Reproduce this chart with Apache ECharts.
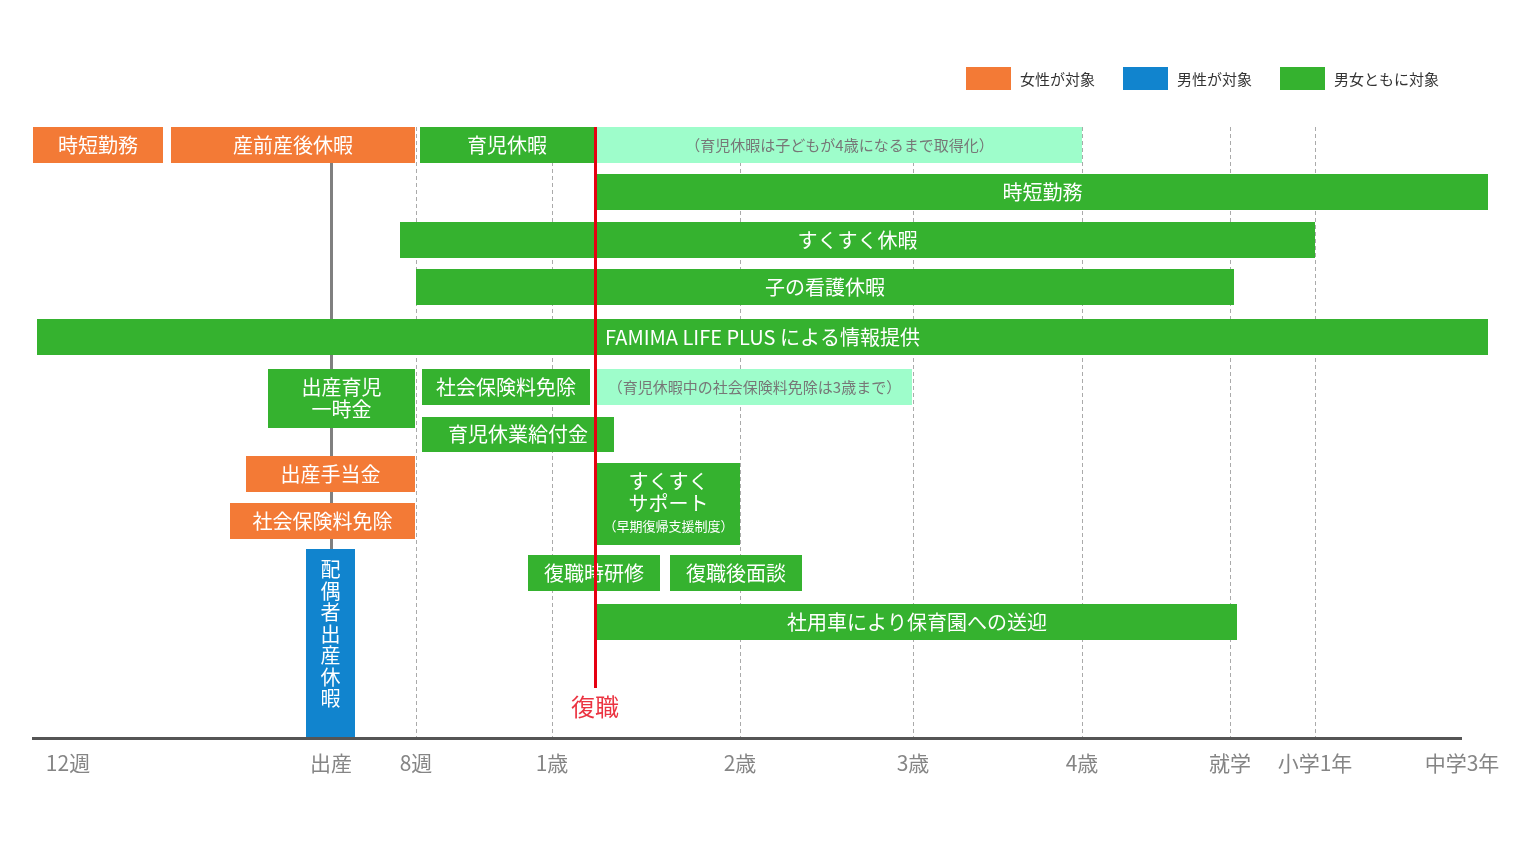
<!DOCTYPE html>
<html><head><meta charset="utf-8">
<script src="https://cdn.jsdelivr.net/npm/echarts@6/dist/echarts.min.js"></script>
<style>html,body{margin:0;background:#fff}#c{width:1540px;height:848px}</style>
</head><body><div id="c"></div>
<script>
// time axis: 0 = 12週, values in axis units
const tickNames = ['12週','出産','8週','1歳','2歳','3歳','4歳','就学','小学1年','中学3年'];
const tickPos   = [0, 289, 374, 510, 698, 871, 1040, 1188, 1273, 1420];
const dashedAt  = [374, 510, 698, 871, 1040, 1188, 1273];
const birthAt = 289, returnAt = 553;

// bars
const barNames = ['時短勤務','産前産後休暇','育児休暇','（育児休暇は子どもが4歳になるまで取得化）','時短勤務','すくすく休暇','子の看護休暇',
  'FAMIMA LIFE PLUS による情報提供','出産育児\n一時金','社会保険料免除','（育児休暇中の社会保険料免除は3歳まで）','育児休業給付金',
  '出産手当金','すくすく\nサポート\n{s|（早期復帰支援制度）}','社会保険料免除','復職時研修','復職後面談','社用車により保育園への送迎','配\n偶\n者\n出\n産\n休\n暇'];
const barStart = [-9,129,378,555,555,358,374,-5,226,380,555,380,204,555,188,486,628,555,264];
const barEnd   = [121,373,552,1040,1446,1273,1192,1446,373,548,870,572,373,698,373,618,760,1195,313];
const barTop   = [127,127,127,127,174,222,269,319,369,369,369,417,456,463,503,555,555,604,549];
const barBot   = [163,163,163,163,210,258,305,355,428,405,405,452,492,545,539,591,591,640,737];
const barKind  = ['f','f','b','n','b','b','b','b','b','b','n','b','f','b','f','b','b','b','m'];

const colors = {f:'#F37A36', m:'#1184CE', b:'#35B22F', n:'#9EFDCB'};
const legendItems = [['女性が対象','f'],['男性が対象','m'],['男女ともに対象','b']];
const FONT = '"Noto Sans CJK JP","Noto Sans",sans-serif';

const chart = echarts.init(document.getElementById('c'));
const barData = barNames.map((n,i)=>[barStart[i],barEnd[i],barTop[i],barBot[i],i]);

chart.setOption({
  animation:false,
  grid:{left:32,right:78,top:100,bottom:58},
  xAxis:{type:'value',min:-10,max:1420,show:false},
  yAxis:{type:'value',min:100,max:790,inverse:true,show:false},
  graphic: legendItems.flatMap(([t,k],i)=>{
    const x = 966 + i*157;
    return [
      {type:'rect',shape:{x:x,y:67,width:45,height:23},style:{fill:colors[k]}},
      {type:'text',x:x+54,y:79,style:{text:t,fill:'#333',font:'15px '+FONT,verticalAlign:'middle'}}
    ];
  }),
  series:[
    {type:'lines',coordinateSystem:'cartesian2d',z:1,silent:true,
      lineStyle:{color:'#aaa',width:1,type:[4,3],opacity:1},
      data:dashedAt.map(x=>({coords:[[x,127],[x,738]]}))},
    {type:'lines',coordinateSystem:'cartesian2d',z:1,silent:true,
      lineStyle:{color:'#808080',width:3,opacity:1},
      data:[{coords:[[birthAt,163],[birthAt,738]]}]},
    {type:'custom',z:3,data:barData,
      renderItem(p,api){
        const i=api.value(4);
        const a=api.coord([api.value(0),api.value(2)]), b=api.coord([api.value(1),api.value(3)]);
        const k=barKind[i], note=k==='n', vert=k==='m';
        return {type:'group',children:[
          {type:'rect',shape:{x:a[0],y:a[1],width:b[0]-a[0],height:b[1]-a[1]},style:{fill:colors[k]}},
          {type:'text',x:(a[0]+b[0])/2,y:vert?a[1]+10:(a[1]+b[1])/2,
            style:{text:barNames[i],fill:note?'#777':'#fff',align:'center',verticalAlign:vert?'top':'middle',
              font:(note?15:20)+'px '+FONT,lineHeight:vert?21.5:22,
              rich:{s:{fontSize:13,fill:'#fff',fontFamily:FONT,lineHeight:24}}}}
        ]};
      }},
    {type:'lines',coordinateSystem:'cartesian2d',z:5,silent:true,
      lineStyle:{color:'#E60012',width:3,opacity:1},
      data:[{coords:[[returnAt,127],[returnAt,688]]}]},
    {type:'scatter',z:5,symbolSize:0,data:[[returnAt,707]],
      label:{show:true,formatter:'復職',color:'#E60012',fontSize:24,fontFamily:FONT,position:'inside'}},
    {type:'lines',coordinateSystem:'cartesian2d',z:6,silent:true,
      lineStyle:{color:'#555',width:3,opacity:1},
      data:[{coords:[[-10,738],[1420,738]]}]},
    {type:'scatter',symbolSize:0,data:tickPos.map((x,i)=>[x,763,i]),
      label:{show:true,position:'inside',color:'#666',fontSize:21,fontFamily:FONT,
        formatter:p=>tickNames[p.value[2]],
        align:'center'},
      labelLayout:p=>{const i=p.dataIndex;return i===0?{dx:26}:(i===9?{dx:0}:{});}}
  ]
});
</script></body></html>
